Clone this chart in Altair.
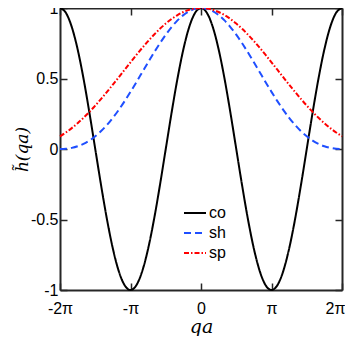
import altair as alt
import pandas as pd

# x positions in units of pi (qa / pi)
qa_pi = [k / 12 for k in range(-24, 25)]

co = [1, 0.966, 0.866, 0.707, 0.5, 0.259, 0, -0.259, -0.5, -0.707, -0.866, -0.966, -1,
      -0.966, -0.866, -0.707, -0.5, -0.259, 0, 0.259, 0.5, 0.707, 0.866, 0.966, 1,
      0.966, 0.866, 0.707, 0.5, 0.259, 0, -0.259, -0.5, -0.707, -0.866, -0.966, -1,
      -0.966, -0.866, -0.707, -0.5, -0.259, 0, 0.259, 0.5, 0.707, 0.866, 0.966, 1]

sh = [0, 0.0019, 0.0081, 0.0194, 0.0365, 0.0599, 0.0901, 0.1271, 0.1710, 0.2214, 0.2778,
      0.3394, 0.4053, 0.4741, 0.5445, 0.6150, 0.6839, 0.7497, 0.8106, 0.8651, 0.9119,
      0.9497, 0.9774, 0.9943, 1,
      0.9943, 0.9774, 0.9497, 0.9119, 0.8651, 0.8106, 0.7497, 0.6839, 0.6150, 0.5445,
      0.4741, 0.4053, 0.3394, 0.2778, 0.2214, 0.1710, 0.1271, 0.0901, 0.0599, 0.0365,
      0.0194, 0.0081, 0.0019, 0]

sp = [0.0901, 0.1172, 0.1482, 0.1830, 0.2214, 0.2632, 0.3080, 0.3555, 0.4053, 0.4567,
      0.5092, 0.5622, 0.6150, 0.6669, 0.7173, 0.7654, 0.8106, 0.8522, 0.8896, 0.9222,
      0.9497, 0.9714, 0.9872, 0.9968, 1,
      0.9968, 0.9872, 0.9714, 0.9497, 0.9222, 0.8896, 0.8522, 0.8106, 0.7654, 0.7173,
      0.6669, 0.6150, 0.5622, 0.5092, 0.4567, 0.4053, 0.3555, 0.3080, 0.2632, 0.2214,
      0.1830, 0.1482, 0.1172, 0.0901]

series_names = ["co", "sh", "sp"]
series_colors = ["#000000", "#1f4fff", "#ff0000"]
series_dashes = [[1, 0], [7, 4], [5, 2, 1.5, 2]]

x_ticks = [-2, -1, 0, 1, 2]
x_tick_labels = ["-2π", "-π", "0", "π", "2π"]
y_ticks = [-1, -0.5, 0, 0.5, 1]
y_tick_labels = ["-1", "-0.5", "0", "0.5", "1"]
x_title = "qa"
y_title = "h\u0303(qa)"

rows = []
for name, vals in zip(series_names, [co, sh, sp]):
    for x, v in zip(qa_pi, vals):
        rows.append({"qa": x, "h": v, "series": name})
df = pd.DataFrame(rows)


def make_label_expr(ticks, labels):
    return " : ".join(
        f"datum.value == {t} ? '{l}'" for t, l in zip(ticks, labels)
    ) + " : ''"


AX = "#262626"
TICK = 7
tick_in = alt.ExprRef(expr=f"-{TICK}")
SANS = "Liberation Sans"
SERIF = "DejaVu Serif"

x_scale = alt.Scale(domain=[-2, 2], nice=False, zero=False)
y_scale = alt.Scale(domain=[-1, 1], nice=False, zero=False)

legend = alt.Legend(
    title=None, orient="none", legendX=123, legendY=193,
    symbolType="stroke", symbolSize=484, symbolStrokeWidth=2,
    labelFont=SANS, labelFontSize=16, labelColor="#000000",
    rowPadding=0, labelOffset=2, padding=0,
)

last_x = x_ticks[-1]

lines = alt.Chart(df).mark_line(strokeWidth=2, interpolate="monotone").encode(
    x=alt.X("qa:Q", scale=x_scale,
            axis=alt.Axis(orient="bottom", values=x_ticks,
                          labelExpr=make_label_expr(x_ticks, x_tick_labels),
                          labelAlign={"condition": {"test": f"datum.value == {last_x}",
                                                    "value": "right"},
                                      "value": "center"},
                          labelOffset={"condition": {"test": f"datum.value == {last_x}",
                                                     "value": 3},
                                       "value": 0},
                          title=x_title, titleFont=SERIF, titleFontStyle="italic",
                          titleFontWeight="normal", titleFontSize=19,
                          titleBaseline="alphabetic", titleY=42.5,
                          titleColor="#000000",
                          labelFont=SANS, labelFontSize=16, labelColor="#000000",
                          labelPadding=10 + TICK, tickSize=tick_in, tickColor=AX, tickWidth=1.5,
                          domainColor=AX, domainWidth=2, grid=False, labelFlush=False)),
    y=alt.Y("h:Q", scale=y_scale,
            axis=alt.Axis(orient="left", values=y_ticks,
                          labelExpr=make_label_expr(y_ticks, y_tick_labels),
                          title=y_title, titleFont=SERIF, titleFontStyle="italic",
                          titleFontWeight="normal", titleFontSize=17,
                          titleBaseline="alphabetic", titleX=-33,
                          titleColor="#000000",
                          labelFont=SANS, labelFontSize=16, labelColor="#000000",
                          labelPadding=2 + TICK, tickSize=tick_in, tickColor=AX, tickWidth=1.5,
                          domainColor=AX, domainWidth=2, grid=False, labelFlush=False)),
    color=alt.Color("series:N", scale=alt.Scale(domain=series_names, range=series_colors),
                    legend=legend),
    strokeDash=alt.StrokeDash("series:N",
                              scale=alt.Scale(domain=series_names, range=series_dashes),
                              legend=legend),
)

frame = alt.Chart(df).mark_line(opacity=0).encode(
    x=alt.X("qa:Q", scale=x_scale,
            axis=alt.Axis(orient="top", values=x_ticks, labels=False, title=None,
                          tickSize=tick_in, tickColor=AX, tickWidth=1.5,
                          domainColor=AX, domainWidth=2, grid=False)),
    y=alt.Y("h:Q", scale=y_scale,
            axis=alt.Axis(orient="right", values=y_ticks, labels=False, title=None,
                          tickSize=tick_in, tickColor=AX, tickWidth=1.5,
                          domainColor=AX, domainWidth=2, grid=False)),
    detail="series:N",
)

chart = alt.layer(lines, frame).resolve_axis(x="independent", y="independent").properties(
    width=282, height=282,
    autosize=alt.AutoSizeParams(type="none"),
    padding={"left": 52, "top": 0, "right": 3, "bottom": 46},
    background="#ffffff",
).configure_view(stroke=None)

chart.save("out.html", embed_options={"renderer": "svg", "actions": False})
